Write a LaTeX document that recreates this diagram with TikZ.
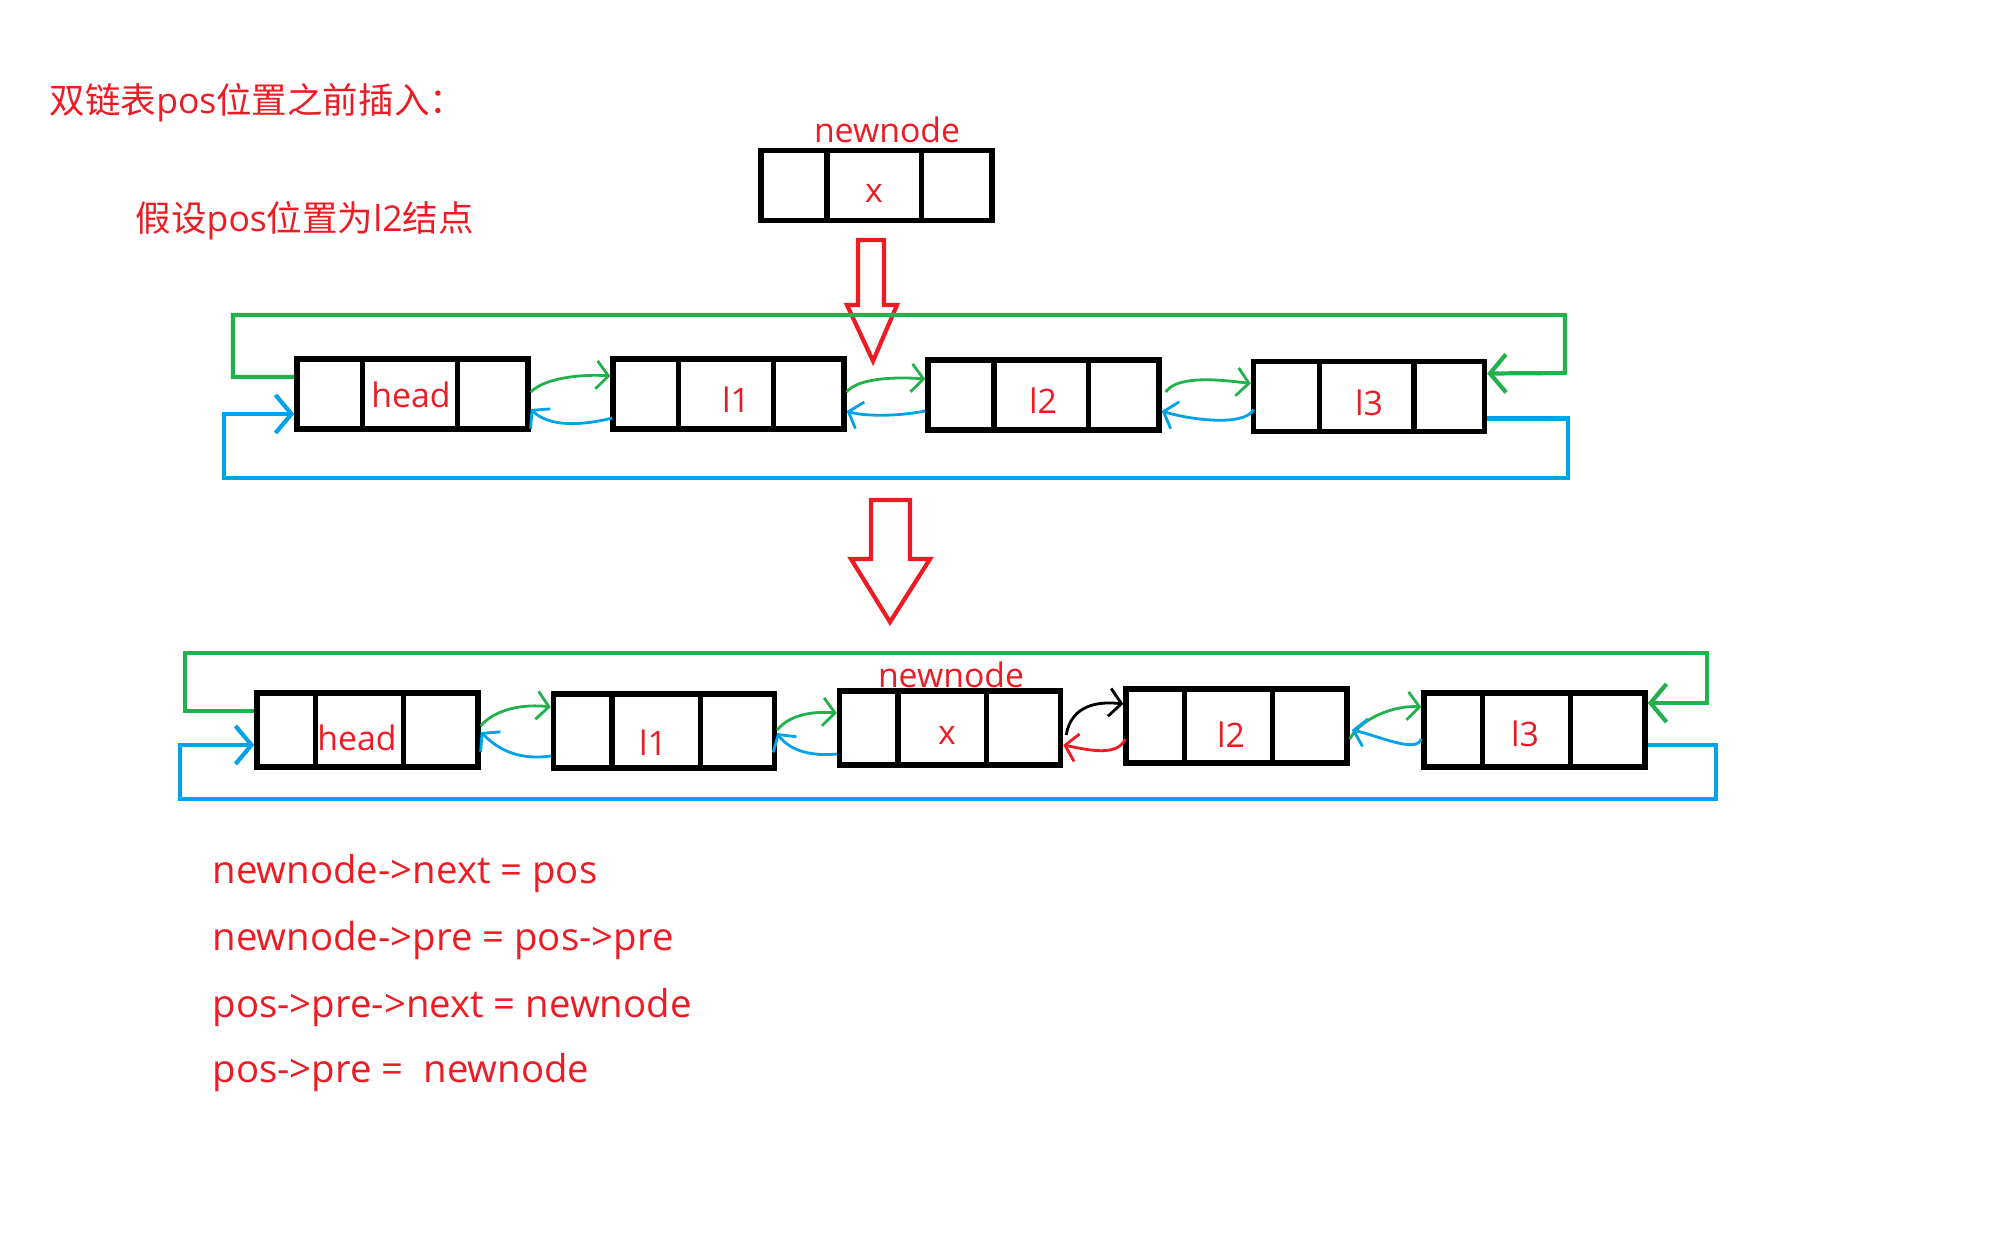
\documentclass[tikz,border=0pt]{standalone}
\usepackage{fontspec}
\setmainfont{Open Sans}
\newfontfamily\cjk{Noto Sans CJK SC}
\usepackage{xcolor}
\usepackage{tikz}
\usetikzlibrary{arrows.meta, positioning, calc}

\definecolor{pred}{RGB}{237,28,36}
\definecolor{pgreen}{RGB}{34,177,76}
\definecolor{pblue}{RGB}{0,162,232}

\begin{document}
\begin{tikzpicture}[x=0.01cm, y=-0.01cm,
    cellbox/.style={rectangle, draw, line width=1.5pt, inner sep=0pt, minimum width=2.31cm, minimum height=0.70cm},
    cellboxb/.style={cellbox, minimum width=2.21cm, minimum height=0.74cm},
    lbl/.style={text=pred, inner sep=0pt, font=\fontsize{9.6pt}{12pt}\selectfont},
    titletext/.style={text=pred, inner sep=0pt, anchor=west, font=\fontsize{10.1pt}{12pt}\selectfont},
    codeline/.style={text=pred, inner sep=0pt, anchor=west, font=\fontsize{10.9pt}{13pt}\selectfont},
    nextarr/.style={pgreen, line width=0.8pt, -{Straight Barb[length=1.2mm, width=2.8mm]}},
    prearr/.style={pblue, line width=0.8pt, -{Straight Barb[length=1.2mm, width=2.8mm]}},
    ringnext/.style={pgreen, line width=1.2pt, -{Straight Barb[length=1.6mm, width=3.8mm]}},
    ringpre/.style={pblue, line width=1.2pt, -{Straight Barb[length=1.6mm, width=3.8mm]}},
    bigarrow/.style={draw=pred, line width=1.2pt, line join=miter},
]
    \useasboundingbox (0,0) rectangle (2015,1252);

    % Titles
    \node[titletext] (title) at (49,103) {{\cjk 双链表}pos{\cjk 位置之前插入：}};
    \node[titletext] (note) at (135,221) {{\cjk 假设}pos{\cjk 位置为}l2{\cjk 结点}};

    % New node
    \node[cellbox] (nn0) at (876.5,185.5) {};
    \node[lbl] (nn0name) at (887,130) {newnode};
    \node[lbl] (nn0x) at (874,193) {x};
    \draw[bigarrow] (858,240) -- (884,240) -- (884,305) -- (897,305) -- (873,361) -- (847,305) -- (858,305) -- cycle;

    % List before
    \node[cellbox] (h1) at (412.5,394) {};
    \node[cellbox] (a1) at (728.5,394) {};
    \node[cellbox] (b1) at (1043.5,395) {};
    \node[cellbox] (c1) at (1369,396.5) {};
    \node[lbl] (h1t) at (411,395) {head};
    \node[lbl] (a1t) at (736,400) {l1};
    \node[lbl] (b1t) at (1043,401) {l2};
    \node[lbl] (c1t) at (1369,403) {l3};
    \foreach \n in {nn0,h1,a1,b1,c1}
        \draw[line width=1.5pt] ($(\n.north west)!0.29!(\n.north east)$) -- ($(\n.south west)!0.29!(\n.south east)$)
            ($(\n.north west)!0.69!(\n.north east)$) -- ($(\n.south west)!0.69!(\n.south east)$);

    \draw[ringnext] ($(h1.west)+(0,-17)$) -| (233,315) -| (1565,373) -- ($(c1.east)+(0,-23)$);
    \draw[ringpre] ($(c1.east)+(0,22)$) -| (1568,478) -| (224,414) -- ($(h1.west)+(0,20)$);

    \draw[nextarr] ($(h1.east)+(0,-2)$) .. controls +(15,-15) and +(-25,-2) .. ($(a1.west)+(0,-18)$);
    \draw[prearr] ($(a1.west)+(2,24)$) .. controls +(-40,10) and +(15,15) .. ($(h1.east)+(0,15)$);
    \draw[nextarr] ($(a1.east)+(0,-2)$) .. controls +(12,-15) and +(-25,-2) .. ($(b1.west)+(0,-16)$);
    \draw[prearr] ($(b1.west)+(0,16)$) .. controls +(-30,6) and +(15,5) .. ($(a1.east)+(0,17)$);
    \draw[nextarr] ($(b1.east)+(4,-3)$) .. controls +(12,-18) and +(-25,-3) .. ($(c1.west)+(0,-13)$);
    \draw[prearr] ($(c1.west)+(3,13)$) .. controls +(-10,18) and +(25,8) .. ($(b1.east)+(0,16)$);

    % Arrow between the lists
    \draw[bigarrow] (871,500) -- (910,500) -- (910,559) -- (930,559) -- (890,622) -- (851,559) -- (871,559) -- cycle;

    % List after
    \node[cellboxb] (h2) at (367.5,730) {};
    \node[cellboxb] (a2) at (664,731) {};
    \node[cellboxb] (n2) at (950,728) {};
    \node[cellboxb] (b2) at (1236.5,726) {};
    \node[cellboxb] (c2) at (1534.5,730) {};
    \node[lbl] (h2t) at (357,738) {head};
    \node[lbl] (a2t) at (653,743) {l1};
    \node[lbl] (n2t) at (947,735) {x};
    \node[lbl] (b2t) at (1231,735) {l2};
    \node[lbl] (c2t) at (1525,734) {l3};
    \node[lbl] (n2name) at (951,675) {newnode};
    \foreach \n in {h2,a2,n2,b2,c2}
        \draw[line width=1.5pt] ($(\n.north west)!0.27!(\n.north east)$) -- ($(\n.south west)!0.27!(\n.south east)$)
            ($(\n.north west)!0.66!(\n.north east)$) -- ($(\n.south west)!0.66!(\n.south east)$);

    \draw[ringnext] ($(h2.west)+(0,-19)$) -| (185,653) -| (1707,703) -- ($(c2.east)+(0,-27)$);
    \draw[ringpre] ($(c2.east)+(0,15)$) -| (1716,799) -| (180,745) -- ($(h2.west)+(0,15)$);

    \draw[nextarr] ($(h2.east)+(0,-4)$) .. controls +(15,-18) and +(-25,-3) .. ($(a2.west)+(0,-24)$);
    \draw[prearr] ($(a2.west)+(0,25)$) .. controls +(-35,5) and +(15,15) .. ($(h2.east)+(0,2)$);
    \draw[nextarr] ($(a2.east)+(0,-1)$) .. controls +(12,-15) and +(-25,-2) .. ($(n2.west)+(0,-15)$);
    \draw[prearr] ($(n2.west)+(0,26)$) .. controls +(-30,3) and +(10,15) .. ($(a2.east)+(0,2)$);
    \draw[line width=0.8pt, -{Straight Barb[length=1.2mm, width=2.8mm]}] ($(n2.east)+(3,7)$) .. controls +(5,-30) and +(-25,-3) .. ($(b2.west)+(0,-22)$);
    \draw[pred, line width=0.8pt, -{Straight Barb[length=1.2mm, width=2.8mm]}] ($(b2.west)+(2,13)$) .. controls +(-8,18) and +(25,5) .. ($(n2.east)+(0,17)$);
    \draw[nextarr] ($(b2.east)+(0,13)$) .. controls +(12,-22) and +(-25,-2) .. ($(c2.west)+(0,-23)$);
    \draw[prearr] ($(c2.west)+(0,9)$) .. controls +(-5,15) and +(25,5) .. ($(b2.east)+(2,4)$);

    % Code
    \node[codeline] (code1) at (212,874) {newnode->next = pos};
    \node[codeline] (code2) at (212,941) {newnode->pre = pos->pre};
    \node[codeline] (code3) at (212,1008) {pos->pre->next = newnode};
    \node[codeline] (code4) at (212,1073) {pos->pre =\ \ newnode};

\end{tikzpicture}
\end{document}
